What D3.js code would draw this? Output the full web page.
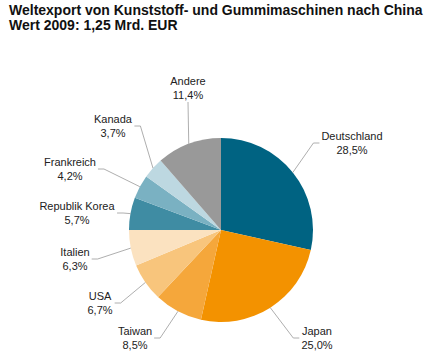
<!DOCTYPE html>
<html><head><meta charset="utf-8">
<script src="https://cdn.jsdelivr.net/npm/d3@7/dist/d3.min.js"></script>
<style>
html,body{margin:0;padding:0;background:#fff;}
svg{display:block;font-family:"Liberation Sans",Arial,sans-serif;}
</style></head>
<body>
<svg id="chart" width="430" height="362"></svg>
<script>
// ---- data ----
const titleLines = ["Weltexport von Kunststoff- und Gummimaschinen nach China", "Wert 2009: 1,25 Mrd. EUR"];
const countries = ["Deutschland", "Japan", "Taiwan", "USA", "Italien", "Republik Korea", "Frankreich", "Kanada", "Andere"];
const shares = [28.5, 25.0, 8.5, 6.7, 6.3, 5.7, 4.2, 3.7, 11.4];
const sliceColors = ["#006382", "#f39200", "#f5a73b", "#f8c57c", "#fbe2c0", "#3f8ca3", "#7ab1c2", "#bdd8e1", "#999999"];
// label anchor (centre x, middle y) of each two-line label
const labelAnchors = [[352, 143], [317, 338], [135, 338], [100, 303], [75, 259], [77, 213], [70, 169], [113, 126], [188, 88]];

// ---- layout ----
const cx = 221, cy = 230, R = 92;
const svg = d3.select("#chart");

const title = svg.append("text")
  .attr("x", 9).attr("y", 15)
  .attr("font-size", 14).attr("font-weight", "bold").attr("fill", "#111");
titleLines.forEach((t, i) => title.append("tspan").attr("x", 9).attr("dy", i === 0 ? 0 : 15).text(t));

const pie = d3.pie().sort(null).value(d => d.v);
const arcs = pie(countries.map((c, i) => ({c, v: shares[i], col: sliceColors[i], pos: labelAnchors[i]})));
const arc = d3.arc().innerRadius(0).outerRadius(R);

const g = svg.append("g").attr("transform", `translate(${cx},${cy})`);
g.selectAll("path.slice").data(arcs).enter().append("path")
  .attr("class", "slice")
  .attr("d", arc)
  .attr("fill", d => d.data.col);

const fmt = v => d3.format(".1f")(v).replace(".", ",") + "%";

const labels = svg.append("g");
arcs.forEach(d => {
  const [lx, ly] = d.data.pos;
  const t = labels.append("text")
    .attr("text-anchor", "middle").attr("font-size", 11).attr("fill", "#222");
  t.append("tspan").attr("x", lx).attr("y", ly - 3).text(d.data.c);
  t.append("tspan").attr("x", lx).attr("y", ly + 11).text(fmt(d.data.v));
  const w = t.node().getBBox().width;
  const mid = (d.startAngle + d.endAngle) / 2;
  const ex = cx + R * Math.sin(mid), ey = cy - R * Math.cos(mid);
  let pts;
  if (Math.abs(ex - lx) < 20 && ly < cy) {
    pts = [[lx, ly + 14], [ex, ey]];
  } else if (lx < ex) {
    const sx = lx + w / 2 + 2;
    pts = [[sx, ly], [sx + 6, ly], [ex, ey]];
  } else {
    const sx = lx - w / 2 - 2;
    pts = [[sx, ly], [sx - 6, ly], [ex, ey]];
  }
  labels.append("path")
    .attr("d", d3.line()(pts))
    .attr("fill", "none").attr("stroke", "#999").attr("stroke-width", 0.8);
});
</script>
</body></html>
